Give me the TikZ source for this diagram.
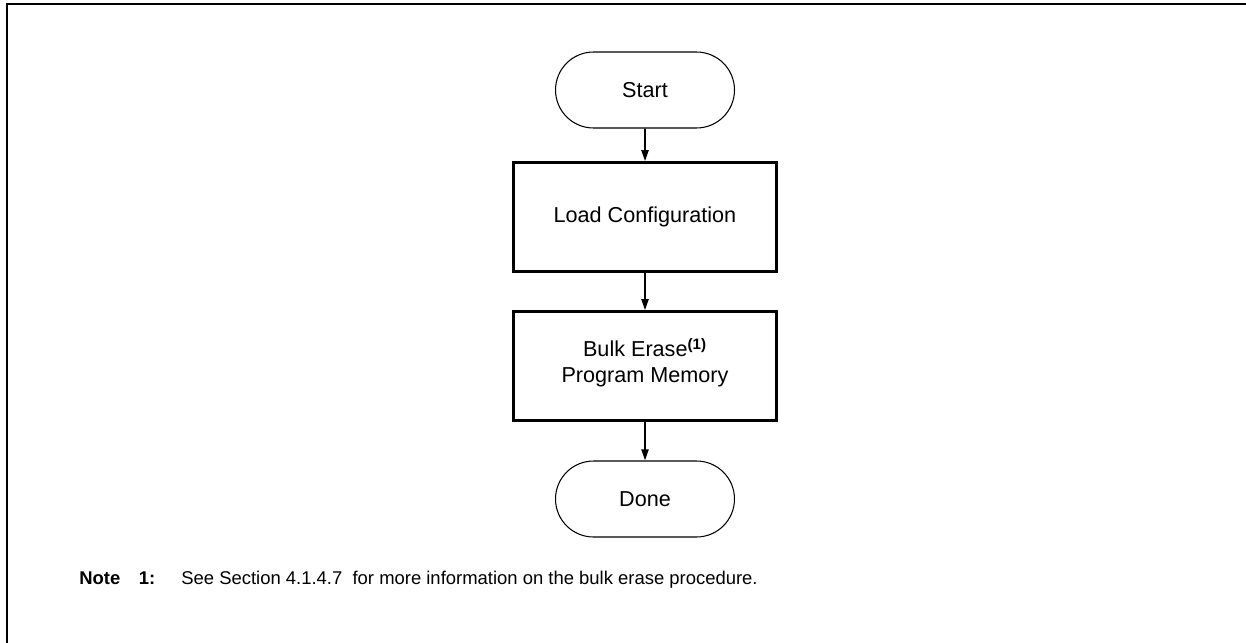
\documentclass[tikz,border=0pt]{standalone}
\usepackage{fontspec}
\setmainfont{Liberation Sans}
\usetikzlibrary{shapes.misc,arrows.meta}
\begin{document}
\begin{tikzpicture}[x=0.02cm,y=-0.02cm,
    term/.style={draw,rounded rectangle,line width=0.6pt,minimum width=3.58cm,minimum height=1.52cm,inner sep=0pt,font=\fontsize{12.3}{14.5}\selectfont},
    proc/.style={draw,rectangle,line width=1.5pt,minimum width=5.26cm,minimum height=2.18cm,inner sep=0pt,align=center,font=\fontsize{12.3}{14.5}\selectfont},
    arr/.style={line width=1.1pt,-{Triangle[length=0.22cm,width=0.14cm]}},
    note/.style={anchor=base west,inner sep=0pt,font=\fontsize{10.5}{12}\selectfont}]
    \useasboundingbox (0,0) rectangle (1246,642);
    \clip (0,0) rectangle (1246,642);
    \draw[line width=1.2pt] (7,660) -- (7,4) -- (1260,4);
    \node[term] (start) at (645,90) {Start};
    \node[proc] (load) at (645,217) {Load Configuration};
    \node[proc] (erase) at (645,366) {Bulk Erase\textsuperscript{\textbf{(1)}}\\Program Memory\\[-8pt]};
    \node[term] (done) at (645,499) {Done};
    \draw[arr] (start) -- (load);
    \draw[arr] (load) -- (erase);
    \draw[arr] (erase) -- (done);
    \node[note] (notelabel) at (79,584) {\textbf{Note}\hspace{0.37cm}\textbf{1:}};
    \node[note] (notetext) at (181,584) {See Section 4.1.4.7\ \ for more information on the bulk erase procedure.};
\end{tikzpicture}
\end{document}
